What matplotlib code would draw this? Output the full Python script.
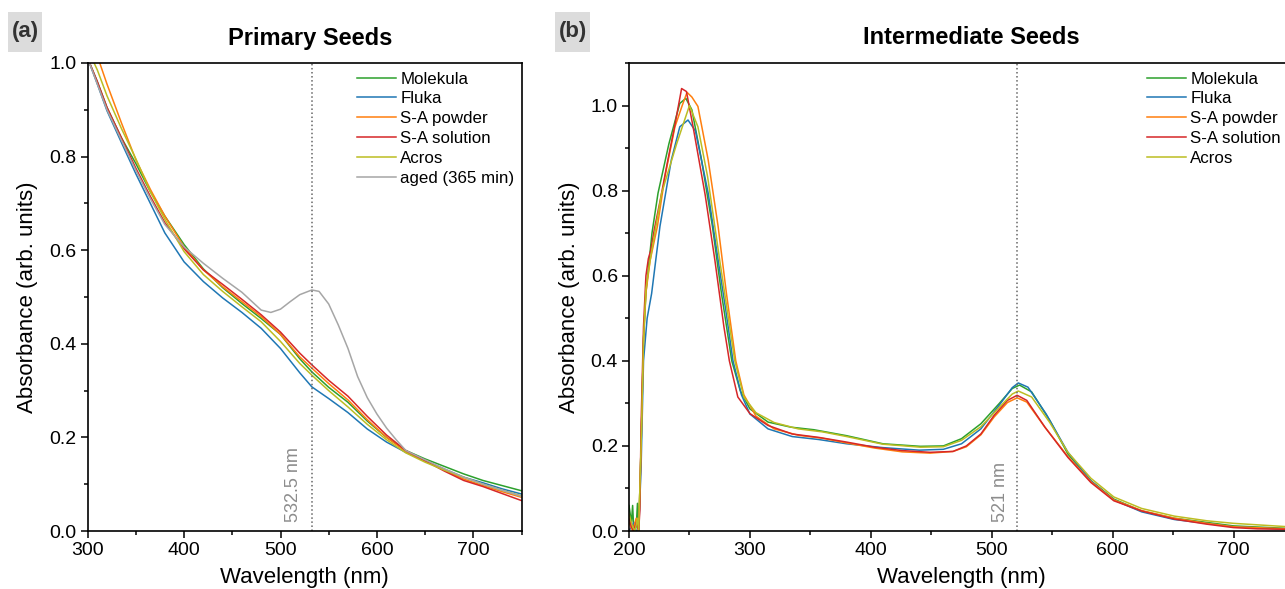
import matplotlib
matplotlib.use('Agg')
import matplotlib.pyplot as plt
from matplotlib.ticker import MultipleLocator
from matplotlib.patches import Rectangle

plt.rcParams['font.family'] = ['Liberation Sans', 'DejaVu Sans']

labels_a = ['Molekula', 'Fluka', 'S-A powder', 'S-A solution', 'Acros', 'aged (365 min)']
labels_b = ['Molekula', 'Fluka', 'S-A powder', 'S-A solution', 'Acros']
colors = ['#2ca02c', '#1f77b4', '#ff7f0e', '#d62728', '#bcbd22', '#a6a6a6']

# (a) primary seeds
wl_a = [300, 310, 320, 335, 350, 365, 380, 400, 420, 440, 460, 480, 500, 520, 532.5,
        550, 570, 590, 610, 630, 650, 670, 690, 710, 730, 750]
molekula_a = [1.01, 0.96, 0.905, 0.84, 0.785, 0.725, 0.673, 0.612, 0.56, 0.52, 0.486, 0.454, 0.42, 0.368, 0.34,
              0.307, 0.275, 0.235, 0.2, 0.172, 0.154, 0.138, 0.122, 0.108, 0.097, 0.086]
fluka_a = [1.01, 0.955, 0.898, 0.83, 0.763, 0.70, 0.637, 0.575, 0.533, 0.498, 0.467, 0.433, 0.39, 0.338, 0.308,
           0.283, 0.253, 0.218, 0.19, 0.168, 0.15, 0.132, 0.115, 0.103, 0.09, 0.079]
sa_powder_a = [1.07, 1.015, 0.955, 0.872, 0.793, 0.73, 0.673, 0.607, 0.558, 0.522, 0.49, 0.458, 0.42, 0.372, 0.348,
               0.315, 0.28, 0.238, 0.2, 0.17, 0.15, 0.13, 0.111, 0.097, 0.084, 0.072]
sa_solution_a = [1.01, 0.96, 0.905, 0.84, 0.775, 0.715, 0.659, 0.603, 0.558, 0.527, 0.495, 0.462, 0.425, 0.38, 0.355,
                 0.322, 0.288, 0.245, 0.205, 0.172, 0.15, 0.128, 0.108, 0.095, 0.08, 0.065]
acros_a = [1.03, 0.985, 0.93, 0.86, 0.795, 0.725, 0.666, 0.597, 0.548, 0.512, 0.479, 0.447, 0.405, 0.358, 0.333,
           0.30, 0.265, 0.228, 0.195, 0.167, 0.147, 0.13, 0.115, 0.10, 0.087, 0.075]
wl_aged = [300, 310, 320, 335, 350, 365, 380, 400, 420, 440, 460, 480, 490, 500, 510, 520, 532.5, 540,
           550, 560, 570, 580, 590, 600, 610, 620, 630, 650, 670, 690, 710, 730, 750]
aged_a = [1.01, 0.955, 0.90, 0.835, 0.77, 0.71, 0.655, 0.607, 0.572, 0.54, 0.51, 0.472, 0.467, 0.474, 0.49, 0.505,
          0.515, 0.512, 0.485, 0.44, 0.39, 0.33, 0.285, 0.25, 0.22, 0.195, 0.172, 0.152, 0.133, 0.115, 0.10,
          0.087, 0.074]

# (b) intermediate seeds
wl_molekula_b = [200, 202, 203, 204, 206, 207, 208, 210, 212, 214, 219, 224, 233, 242, 247, 252, 260, 269, 276.5,
                 285, 292, 300, 315, 334, 353, 380, 410, 441, 460, 475, 491, 506, 517, 523, 533, 548, 563, 582,
                 601, 624, 651, 700, 745]
molekula_b = [0.06, 0.02, 0.06, 0.0, 0.01, 0.065, 0.0, 0.2, 0.45, 0.56, 0.70, 0.794, 0.91, 1.005, 1.017, 0.99,
              0.872, 0.716, 0.558, 0.40, 0.33, 0.287, 0.256, 0.244, 0.238, 0.224, 0.205, 0.199, 0.20, 0.217,
              0.252, 0.299, 0.335, 0.343, 0.327, 0.26, 0.181, 0.118, 0.075, 0.047, 0.03, 0.012, 0.006]
wl_fluka_b = [200, 204, 206, 208, 210, 212, 215, 218.7, 225.6, 235, 242, 248.8, 255, 265.5, 273.7, 280, 286, 293,
              300, 315, 335, 357, 380, 410, 440, 460, 475, 491, 506, 517, 522, 530, 545, 563, 582, 601, 624, 651,
              700, 745]
fluka_b = [0.0, 0.02, 0.0, 0.0, 0.15, 0.40, 0.50, 0.558, 0.716, 0.872, 0.95, 0.966, 0.94, 0.794, 0.637, 0.52,
           0.40, 0.32, 0.275, 0.24, 0.222, 0.215, 0.205, 0.196, 0.19, 0.192, 0.205, 0.24, 0.295, 0.337, 0.348,
           0.338, 0.275, 0.185, 0.118, 0.073, 0.045, 0.027, 0.01, 0.004]
wl_sa_powder_b = [200, 203, 206, 208, 210, 212, 214, 217.4, 223.5, 229.7, 238, 244, 248, 252, 257, 265.5, 273.7,
                  280.6, 288.3, 295, 305, 320, 340, 360, 380, 403, 426, 449, 468, 479, 491, 502, 513, 521, 529,
                  544, 563, 582, 601, 624, 651, 678, 700, 745]
sa_powder_b = [0.02, 0.0, 0.03, 0.0, 0.2, 0.45, 0.56, 0.635, 0.716, 0.833, 0.95, 1.0, 1.031, 1.02, 0.998, 0.872,
               0.716, 0.558, 0.40, 0.32, 0.27, 0.24, 0.225, 0.218, 0.207, 0.195, 0.186, 0.183, 0.187, 0.198,
               0.226, 0.268, 0.302, 0.313, 0.303, 0.244, 0.175, 0.116, 0.073, 0.048, 0.03, 0.018, 0.01, 0.005]
wl_sa_solution_b = [200, 202, 204, 206, 208, 209, 210, 212, 214, 216, 218, 221, 226, 232, 238, 243.5, 247.5, 253,
                    258, 263, 271, 278.5, 283, 290, 300, 315, 335, 357, 380, 403, 426, 449, 468, 479, 491, 502,
                    513, 521, 529, 544, 563, 582, 601, 624, 651, 678, 700, 720, 745]
sa_solution_b = [0.03, 0.01, 0.0, 0.02, 0.0, 0.05, 0.25, 0.48, 0.60, 0.64, 0.66, 0.71, 0.78, 0.87, 0.955, 1.04,
                 1.033, 0.95, 0.87, 0.79, 0.637, 0.48, 0.40, 0.315, 0.276, 0.248, 0.228, 0.22, 0.209, 0.197,
                 0.189, 0.185, 0.187, 0.20, 0.228, 0.272, 0.307, 0.319, 0.307, 0.244, 0.173, 0.114, 0.071, 0.047,
                 0.028, 0.016, 0.008, 0.005, 0.004]
wl_acros_b = [200, 203, 205, 207, 208, 210, 212, 214, 217.4, 227, 239.4, 250, 257, 265, 275, 287.5, 295, 305, 320,
              340, 360, 380, 410, 441, 460, 475, 491, 506, 517, 522, 533, 548, 563, 582, 601, 624, 651, 678, 700,
              745]
acros_b = [0.04, 0.01, 0.0, 0.03, 0.0, 0.2, 0.45, 0.57, 0.635, 0.794, 0.91, 1.0, 0.95, 0.833, 0.637, 0.40, 0.315,
           0.278, 0.255, 0.24, 0.233, 0.222, 0.204, 0.197, 0.198, 0.213, 0.245, 0.29, 0.322, 0.329, 0.315, 0.255,
           0.185, 0.124, 0.08, 0.053, 0.035, 0.024, 0.018, 0.01]

peak_a = 532.5
peak_b = 521

W, H = 1285, 589
fig = plt.figure(figsize=(W/100., H/100.), dpi=100)

ax1 = fig.add_axes([87.7/W, 1-531/H, (521.5-87.7)/W, 468/H])
ax2 = fig.add_axes([629/W, 1-531/H, (1294-629)/W, 468/H])

series_a = [(wl_a, molekula_a), (wl_a, fluka_a), (wl_a, sa_powder_a), (wl_a, sa_solution_a),
            (wl_a, acros_a), (wl_aged, aged_a)]
for (x, y), lab, c in zip(series_a, labels_a, colors):
    ax1.plot(x, y, color=c, lw=1.1, label=lab)

series_b = [(wl_molekula_b, molekula_b), (wl_fluka_b, fluka_b), (wl_sa_powder_b, sa_powder_b),
            (wl_sa_solution_b, sa_solution_b), (wl_acros_b, acros_b)]
for (x, y), lab, c in zip(series_b, labels_b, colors):
    ax2.plot(x, y, color=c, lw=1.1, label=lab)

ax1.axvline(peak_a, color='#666666', ls=':', lw=1.1)
ax2.axvline(peak_b, color='#666666', ls=':', lw=1.1)
ax1.text(peak_a-19, 0.02, '%g nm' % peak_a, rotation=90, color='#8c8c8c', fontsize=13,
         ha='center', va='bottom')
ax2.text(peak_b-14, 0.02, '%g nm' % peak_b, rotation=90, color='#8c8c8c', fontsize=13,
         ha='center', va='bottom')

ax1.set_xlim(300, 750)
ax1.set_ylim(0, 1.0)
ax2.set_xlim(200, 750)
ax2.set_ylim(0, 1.1)
ax2.spines['right'].set_visible(False)

for ax in (ax1, ax2):
    ax.xaxis.set_major_locator(MultipleLocator(100))
    ax.xaxis.set_minor_locator(MultipleLocator(50))
    ax.yaxis.set_major_locator(MultipleLocator(0.2))
    ax.yaxis.set_minor_locator(MultipleLocator(0.1))
    ax.yaxis.set_major_formatter(plt.FuncFormatter(lambda v, p: '%.1f' % v))
    ax.tick_params(which='major', direction='out', length=5, width=1.1, labelsize=14, pad=3)
    ax.tick_params(which='minor', direction='out', length=3, width=1.1)
    ax.tick_params(top=False, right=False)
    for s in ax.spines.values():
        s.set_linewidth(1.2)
    ax.set_xlabel('Wavelength (nm)', fontsize=16, labelpad=6)
    ax.set_ylabel('Absorbance (arb. units)', fontsize=16, labelpad=8)

leg_kw = dict(loc='upper left', bbox_transform=fig.transFigure, frameon=False, fontsize=12.2,
              handlelength=2.3, handletextpad=0.25, labelspacing=0.29, borderpad=0, borderaxespad=0)
ax1.legend(bbox_to_anchor=(357/W, 1-71.5/H), **leg_kw)
ax2.legend(bbox_to_anchor=(1147/W, 1-71.5/H), **leg_kw)

fig.text(310/W, 1-38/H, 'Primary Seeds', fontsize=17, fontweight='bold', ha='center', va='center')
fig.text(971/W, 1-38/H, 'Intermediate Seeds', fontsize=17, fontweight='bold', ha='center', va='center')

# panel tags on grey boxes
for x0, x1, tag in [(8, 42, '(a)'), (555, 590, '(b)')]:
    fig.patches.append(Rectangle((x0/W, 1-52/H), (x1-x0)/W, 40/H, transform=fig.transFigure,
                                 facecolor='#dcdcdc', edgecolor='none'))
    fig.text((x0+x1)/2./W, 1-32/H, tag, fontsize=16, fontweight='bold', color='#333333',
             ha='center', va='center')

fig.savefig('out.png', dpi=100)
